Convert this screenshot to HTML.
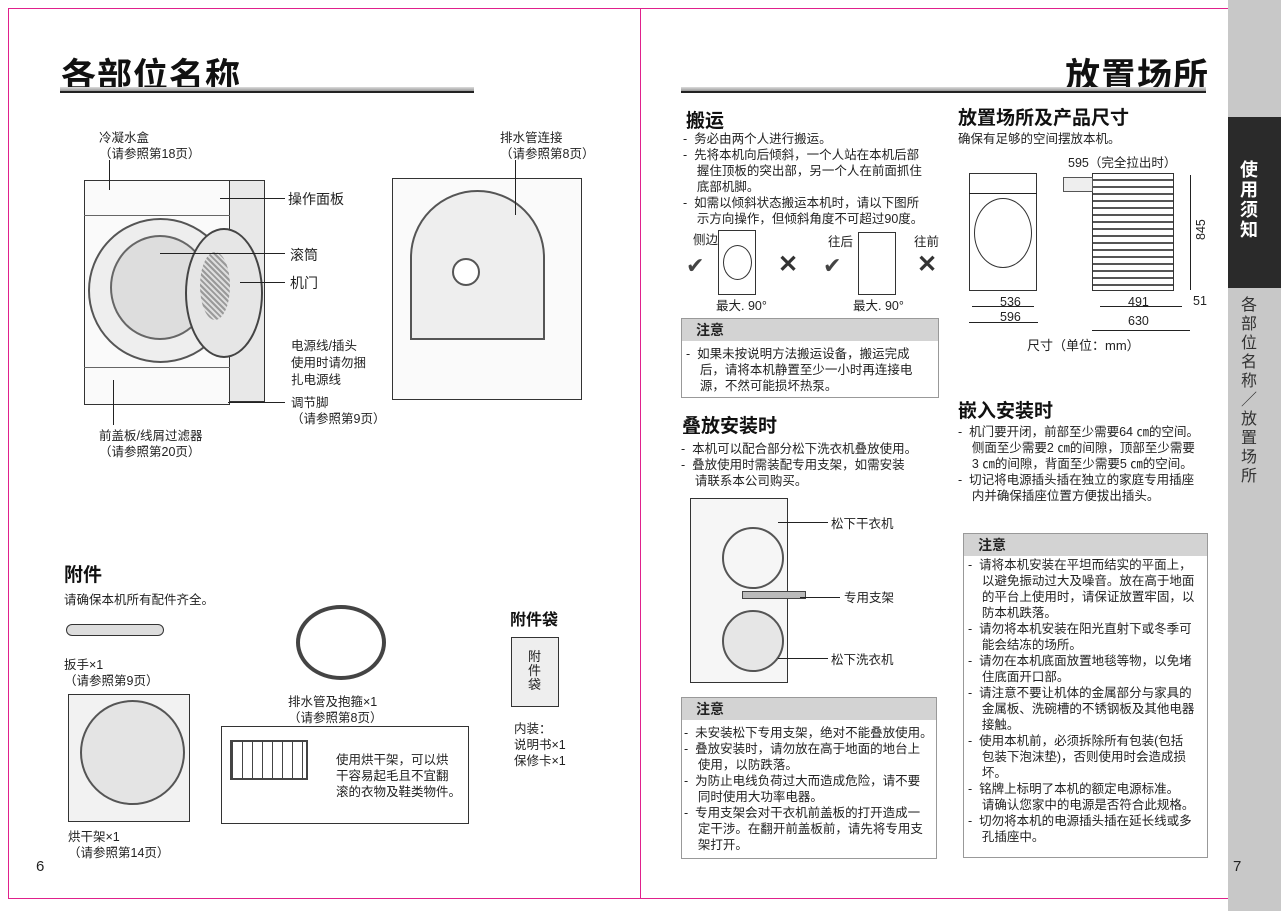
<!DOCTYPE html>
<html><head><meta charset="utf-8"><style>
*{margin:0;padding:0;box-sizing:border-box}
body{width:1281px;height:911px;position:relative;background:#fff;font-family:"Liberation Sans","Noto Sans CJK SC",sans-serif;color:#222;overflow:hidden}
.a{position:absolute;white-space:nowrap}
.t{font-size:12.5px;line-height:16px}
.h{font-size:19px;font-weight:bold;color:#111}
.big{font-size:35px;color:#111;font-weight:bold;letter-spacing:1px}
.rule{position:absolute;height:6px;background:linear-gradient(#ddd,#999);border-bottom:2px solid #222}
.box{position:absolute;border:1px solid #999}
.boxh{background:#d3d3d3;font-size:14px;font-weight:bold;padding-left:14px;height:22px;line-height:22px}
.g{position:absolute;border:1.5px solid #333;background:#f4f4f4}
.ln{position:absolute;background:#222}
</style></head><body>
<div class="a" style="left:8px;top:8px;width:1220px;height:1px;background:#e0208c"></div>
<div class="a" style="left:8px;top:8px;width:1px;height:890px;background:#e0208c"></div>
<div class="a" style="left:640px;top:8px;width:1px;height:890px;background:#e0208c"></div>
<div class="a" style="left:8px;top:898px;width:1220px;height:1px;background:#e0208c"></div>
<div class="a" style="left:1228px;top:0;width:53px;height:911px;background:#c8c8c8"></div>
<div class="a" style="left:1228px;top:117px;width:53px;height:171px;background:#2a2a2a"></div>
<div class="a" style="left:1240px;top:160px;width:30px;font-size:18px;line-height:20px;color:#fff;font-weight:bold;white-space:normal">使用须知</div>
<div class="a" style="left:1241px;top:296px;width:20px;font-size:16px;line-height:19px;color:#333;white-space:normal">各部位名称／放置场所</div>

<div class="a big" style="left:61px;top:48px">各部位名称</div>
<div class="rule" style="left:60px;top:87px;width:414px"></div>
<div class="a t" style="left:99px;top:130px">冷凝水盒<br>（请参照第18页）</div>
<div class="a t" style="left:500px;top:130px">排水管连接<br>（请参照第8页）</div>
<!-- front washer -->
<div class="g" style="left:84px;top:180px;width:146px;height:225px;background:#fafafa"></div>
<div class="g" style="left:229px;top:180px;width:36px;height:222px;background:#e8e8e8"></div>
<div class="ln" style="left:84px;top:215px;width:146px;height:1px;background:#666"></div>
<div class="ln" style="left:84px;top:367px;width:146px;height:1px;background:#666"></div>
<div class="a" style="left:88px;top:218px;width:145px;height:145px;border:2px solid #555;border-radius:50%;background:#eee"></div>
<div class="a" style="left:110px;top:235px;width:100px;height:105px;border:2px solid #666;border-radius:50%;background:#ddd"></div>
<div class="a" style="left:185px;top:228px;width:78px;height:130px;border:2px solid #444;border-radius:50%;background:#e6e6e6"></div>
<div class="a" style="left:200px;top:252px;width:30px;height:68px;border-radius:50%;background:repeating-linear-gradient(45deg,#999 0 2px,#ddd 2px 4px)"></div>
<div class="ln" style="left:220px;top:198px;width:65px;height:1px"></div>
<div class="ln" style="left:160px;top:253px;width:125px;height:1px"></div>
<div class="ln" style="left:240px;top:282px;width:45px;height:1px"></div>
<div class="ln" style="left:109px;top:160px;width:1px;height:30px"></div>
<div class="ln" style="left:113px;top:380px;width:1px;height:45px"></div>
<div class="ln" style="left:228px;top:402px;width:57px;height:1px"></div>
<div class="a" style="left:288px;top:189px;font-size:14px">操作面板</div>
<div class="a" style="left:290px;top:245px;font-size:14px">滚筒</div>
<div class="a" style="left:290px;top:273px;font-size:14px">机门</div>
<div class="a t" style="left:291px;top:338px;line-height:17px">电源线/插头<br>使用时请勿捆<br>扎电源线</div>
<div class="a t" style="left:291px;top:395px">调节脚<br>（请参照第9页）</div>
<div class="a t" style="left:99px;top:428px">前盖板/线屑过滤器<br>（请参照第20页）</div>
<div class="g" style="left:392px;top:178px;width:190px;height:222px;background:#fafafa"></div>
<div class="a" style="left:410px;top:190px;width:135px;height:150px;border:2px solid #555;border-radius:70px 70px 0 0;background:#eee"></div>
<div class="a" style="left:452px;top:258px;width:28px;height:28px;border:2px solid #555;border-radius:50%;background:#fff"></div>
<div class="ln" style="left:515px;top:160px;width:1px;height:55px"></div>

<div class="a h" style="left:64px;top:560px">附件</div>
<div class="a t" style="left:64px;top:592px">请确保本机所有配件齐全。</div>
<div class="a" style="left:66px;top:624px;width:98px;height:12px;background:#ddd;border:1.5px solid #333;border-radius:6px"></div>
<div class="a t" style="left:64px;top:657px">扳手×1<br>（请参照第9页）</div>
<div class="a" style="left:296px;top:605px;width:90px;height:75px;border:4px solid #444;border-radius:50%"></div>
<div class="a t" style="left:288px;top:694px">排水管及抱箍×1<br>（请参照第8页）</div>
<div class="a h" style="left:510px;top:606px;font-size:16px">附件袋</div>
<div class="a" style="left:511px;top:637px;width:48px;height:70px;border:1.5px solid #333;background:#eee"></div>
<div class="a" style="left:528px;top:650px;font-size:13px;line-height:14px;white-space:normal;width:14px">附件袋</div>
<div class="a t" style="left:514px;top:721px">内装：<br>说明书×1<br>保修卡×1</div>
<div class="a" style="left:68px;top:694px;width:122px;height:128px;border:1px solid #333;background:#f2f2f2"></div>
<div class="a" style="left:80px;top:700px;width:105px;height:105px;border:2px solid #555;border-radius:50%;background:#e4e4e4"></div>
<div class="a t" style="left:68px;top:829px">烘干架×1<br>（请参照第14页）</div>
<div class="a" style="left:221px;top:726px;width:248px;height:98px;border:1px solid #333"></div>
<div class="a" style="left:230px;top:740px;width:78px;height:40px;border:2px solid #444;background:repeating-linear-gradient(90deg,#444 0 1px,transparent 1px 10px)"></div>
<div class="a t" style="left:336px;top:752px">使用烘干架，可以烘<br>干容易起毛且不宜翻<br>滚的衣物及鞋类物件。</div>
<div class="a" style="left:36px;top:858px;font-size:15px">6</div>

<div class="a big" style="right:72px;top:48px">放置场所</div>
<div class="rule" style="left:681px;top:87px;width:525px"></div>
<div class="a h" style="left:686px;top:106px">搬运</div>
<div class="a t" style="left:683px;top:131px;line-height:16px">-&nbsp; 务必由两个人进行搬运。<br>-&nbsp; 先将本机向后倾斜，一个人站在本机后部<br>&nbsp;&nbsp;&nbsp; 握住顶板的突出部，另一个人在前面抓住<br>&nbsp;&nbsp;&nbsp; 底部机脚。<br>-&nbsp; 如需以倾斜状态搬运本机时，请以下图所<br>&nbsp;&nbsp;&nbsp; 示方向操作，但倾斜角度不可超过90度。</div>
<div class="a t" style="left:693px;top:232px">侧边</div>
<div class="a t" style="left:828px;top:234px">往后</div>
<div class="a t" style="left:914px;top:234px">往前</div>
<div class="a" style="left:686px;top:253px;font-size:22px;color:#444">✔</div>
<div class="g" style="left:718px;top:230px;width:38px;height:65px;background:#fff"></div>
<div class="a" style="left:723px;top:245px;width:29px;height:35px;border:1.5px solid #333;border-radius:50%"></div>
<div class="a" style="left:778px;top:250px;font-size:24px;color:#333;font-weight:bold">✕</div>
<div class="a" style="left:823px;top:253px;font-size:22px;color:#444">✔</div>
<div class="g" style="left:858px;top:232px;width:38px;height:63px;background:#fff"></div>
<div class="a" style="left:917px;top:250px;font-size:24px;color:#333;font-weight:bold">✕</div>
<div class="a t" style="left:716px;top:298px">最大. 90°</div>
<div class="a t" style="left:853px;top:298px">最大. 90°</div>
<div class="box" style="left:681px;top:318px;width:258px;height:80px"><div class="boxh">注意</div></div>
<div class="a t" style="left:686px;top:346px">-&nbsp; 如果未按说明方法搬运设备，搬运完成<br>&nbsp;&nbsp;&nbsp; 后，请将本机静置至少一小时再连接电<br>&nbsp;&nbsp;&nbsp; 源，不然可能损坏热泵。</div>
<div class="a h" style="left:682px;top:411px">叠放安装时</div>
<div class="a t" style="left:681px;top:441px">-&nbsp; 本机可以配合部分松下洗衣机叠放使用。<br>-&nbsp; 叠放使用时需装配专用支架，如需安装<br>&nbsp;&nbsp;&nbsp; 请联系本公司购买。</div>
<div class="g" style="left:690px;top:498px;width:98px;height:185px;background:#f6f6f6"></div>
<div class="a" style="left:722px;top:527px;width:62px;height:62px;border:2px solid #555;border-radius:50%"></div>
<div class="a" style="left:722px;top:610px;width:62px;height:62px;border:2px solid #555;border-radius:50%;background:#e6e6e6"></div>
<div class="a" style="left:742px;top:591px;width:64px;height:8px;background:#bbb;border:1px solid #444"></div>
<div class="ln" style="left:778px;top:522px;width:50px;height:1px"></div>
<div class="ln" style="left:800px;top:597px;width:40px;height:1px"></div>
<div class="ln" style="left:778px;top:658px;width:50px;height:1px"></div>
<div class="a t" style="left:831px;top:516px">松下干衣机</div>
<div class="a t" style="left:844px;top:590px">专用支架</div>
<div class="a t" style="left:831px;top:652px">松下洗衣机</div>
<div class="box" style="left:681px;top:697px;width:256px;height:162px"><div class="boxh">注意</div></div>
<div class="a t" style="left:684px;top:725px">-&nbsp; 未安装松下专用支架，绝对不能叠放使用。<br>-&nbsp; 叠放安装时，请勿放在高于地面的地台上<br>&nbsp;&nbsp;&nbsp; 使用，以防跌落。<br>-&nbsp; 为防止电线负荷过大而造成危险，请不要<br>&nbsp;&nbsp;&nbsp; 同时使用大功率电器。<br>-&nbsp; 专用支架会对干衣机前盖板的打开造成一<br>&nbsp;&nbsp;&nbsp; 定干涉。在翻开前盖板前，请先将专用支<br>&nbsp;&nbsp;&nbsp; 架打开。</div>

<div class="a h" style="left:958px;top:103px">放置场所及产品尺寸</div>
<div class="a t" style="left:958px;top:131px">确保有足够的空间摆放本机。</div>
<div class="a t" style="left:1068px;top:155px">595（完全拉出时）</div>
<div class="g" style="left:969px;top:173px;width:68px;height:118px;background:#fff"></div>
<div class="a" style="left:974px;top:198px;width:58px;height:70px;border:1.5px solid #333;border-radius:50%"></div>
<div class="ln" style="left:969px;top:193px;width:68px;height:1px"></div>
<div class="a" style="left:1092px;top:173px;width:82px;height:118px;border:1.5px solid #333;background:repeating-linear-gradient(#fff 0 5px,#555 5px 7px)"></div>
<div class="a" style="left:1063px;top:177px;width:30px;height:15px;border:1px solid #555;background:#eee"></div>
<div class="ln" style="left:1190px;top:175px;width:1px;height:115px"></div>
<div class="a t" style="left:1193px;top:240px;transform:rotate(-90deg);transform-origin:0 0">845</div>
<div class="ln" style="left:972px;top:306px;width:62px;height:1px"></div>
<div class="ln" style="left:969px;top:322px;width:69px;height:1px"></div>
<div class="ln" style="left:1100px;top:306px;width:82px;height:1px"></div>
<div class="ln" style="left:1092px;top:330px;width:98px;height:1px"></div>
<div class="a t" style="left:1000px;top:294px">536</div>
<div class="a t" style="left:1000px;top:309px">596</div>
<div class="a t" style="left:1128px;top:294px">491</div>
<div class="a t" style="left:1128px;top:313px">630</div>
<div class="a t" style="left:1193px;top:293px">51</div>
<div class="a" style="left:1027px;top:335px;font-size:13px">尺寸（单位：mm）</div>

<div class="a h" style="left:958px;top:396px">嵌入安装时</div>
<div class="a t" style="left:958px;top:424px">-&nbsp; 机门要开闭，前部至少需要64 ㎝的空间。<br>&nbsp;&nbsp;&nbsp; 侧面至少需要2 ㎝的间隙，顶部至少需要<br>&nbsp;&nbsp;&nbsp; 3 ㎝的间隙，背面至少需要5 ㎝的空间。<br>-&nbsp; 切记将电源插头插在独立的家庭专用插座<br>&nbsp;&nbsp;&nbsp; 内并确保插座位置方便拔出插头。</div>
<div class="box" style="left:963px;top:533px;width:245px;height:325px"><div class="boxh">注意</div></div>
<div class="a t" style="left:968px;top:557px">-&nbsp; 请将本机安装在平坦而结实的平面上，<br>&nbsp;&nbsp;&nbsp; 以避免振动过大及噪音。放在高于地面<br>&nbsp;&nbsp;&nbsp; 的平台上使用时，请保证放置牢固，以<br>&nbsp;&nbsp;&nbsp; 防本机跌落。<br>-&nbsp; 请勿将本机安装在阳光直射下或冬季可<br>&nbsp;&nbsp;&nbsp; 能会结冻的场所。<br>-&nbsp; 请勿在本机底面放置地毯等物，以免堵<br>&nbsp;&nbsp;&nbsp; 住底面开口部。<br>-&nbsp; 请注意不要让机体的金属部分与家具的<br>&nbsp;&nbsp;&nbsp; 金属板、洗碗槽的不锈钢板及其他电器<br>&nbsp;&nbsp;&nbsp; 接触。<br>-&nbsp; 使用本机前，必须拆除所有包装(包括<br>&nbsp;&nbsp;&nbsp; 包装下泡沫垫)，否则使用时会造成损<br>&nbsp;&nbsp;&nbsp; 坏。<br>-&nbsp; 铭牌上标明了本机的额定电源标准。<br>&nbsp;&nbsp;&nbsp; 请确认您家中的电源是否符合此规格。<br>-&nbsp; 切勿将本机的电源插头插在延长线或多<br>&nbsp;&nbsp;&nbsp; 孔插座中。</div>
<div class="a" style="left:1233px;top:858px;font-size:15px">7</div>
</body></html>
